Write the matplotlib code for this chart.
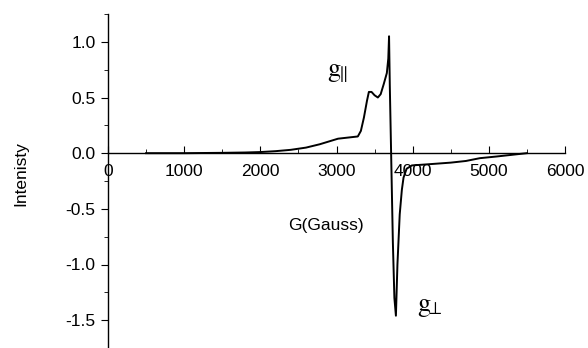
import numpy as np
import matplotlib.pyplot as plt

plt.rcParams['font.family'] = ['Liberation Sans', 'DejaVu Sans']
plt.rcParams['mathtext.fontset'] = 'stix'

# EPR spectrum
field = [500, 1000, 1500, 1800, 2000, 2200, 2400, 2600, 2780, 2900, 3020, 3150, 3280,
         3320, 3360, 3400, 3425, 3460, 3500, 3543, 3580, 3620, 3661, 3680, 3690,
         3700, 3720, 3740, 3760, 3780, 3800, 3830, 3858, 3880, 3920, 3990,
         4200, 4500, 4700, 4882, 5100, 5300, 5500]
intensity = [0.0, 0.0, 0.003, 0.006, 0.01, 0.018, 0.03, 0.05, 0.08, 0.105, 0.13, 0.14, 0.15,
             0.2, 0.32, 0.47, 0.55, 0.55, 0.52, 0.50, 0.53, 0.62, 0.72, 0.85, 1.05,
             0.6, -0.1, -0.8, -1.3, -1.46, -1.0, -0.55, -0.33, -0.22, -0.14, -0.11,
             -0.1, -0.085, -0.07, -0.045, -0.03, -0.015, 0.0]

x_ticks = [0, 1000, 2000, 3000, 4000, 5000, 6000]
y_ticks = [-1.5, -1.0, -0.5, 0.0, 0.5, 1.0]

fig = plt.figure(figsize=(5.88, 3.48), dpi=100)
ax = fig.add_axes([108 / 588, 0, 457 / 588, 334 / 348])

ax.plot(field, intensity, color='black', lw=1.4)

ax.set_xlim(0, 6000)
ax.set_ylim(-1.708, 1.248)

ax.spines['top'].set_visible(False)
ax.spines['right'].set_visible(False)
ax.spines['bottom'].set_position(('data', 0))
ax.spines['bottom'].set_linewidth(1.0)
ax.spines['left'].set_linewidth(1.0)

fs = 12.5
ax.set_xticks(x_ticks)
ax.set_xticks(np.arange(500, 6000, 1000), minor=True)
ax.set_yticks(y_ticks)
ax.set_yticklabels([f'{v:.1f}' for v in y_ticks])
ax.set_yticks(np.arange(-1.75, 1.26, 0.5), minor=True)
ax.tick_params(axis='x', which='both', direction='in', labelsize=fs, pad=8)
ax.tick_params(axis='x', which='major', length=5)
ax.tick_params(axis='x', which='minor', length=3)
ax.tick_params(axis='y', which='both', direction='out', labelsize=fs, pad=4)
ax.tick_params(axis='y', which='major', length=5)
ax.tick_params(axis='y', which='minor', length=3)

fig.text(21 / 588, 1 - 174 / 348, 'Intenisty', rotation=90, ha='center', va='center', fontsize=fs)
ax.text(2860, -0.65, 'G(Gauss)', ha='center', va='center', fontsize=fs)
ax.text(2880, 0.72, r'$\mathrm{g}_{\!\!\parallel}$', fontsize=19, ha='left', va='center')
ax.text(4060, -1.38, r'$\mathrm{g}_{\!\!\perp}$', fontsize=19, ha='left', va='center')

fig.savefig('out.png', dpi=100)
